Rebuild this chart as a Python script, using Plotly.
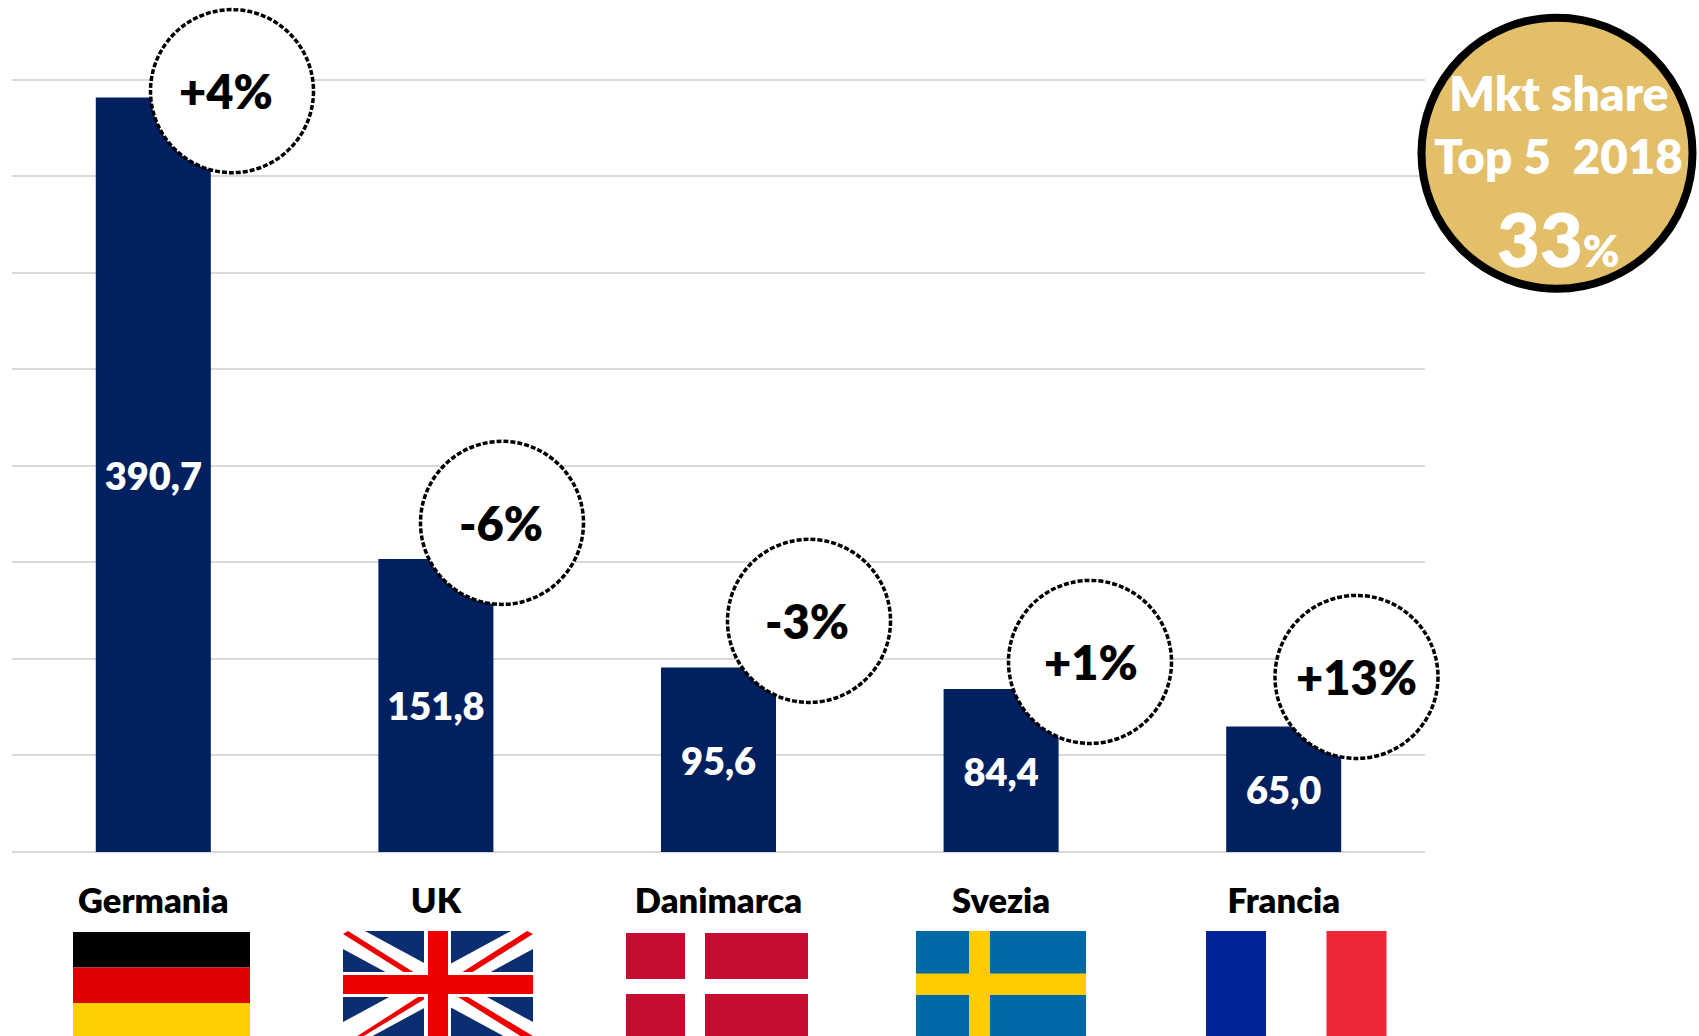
import plotly.graph_objects as go

countries = ["Germania", "UK", "Danimarca", "Svezia", "Francia"]
values = [390.7, 151.8, 95.6, 84.4, 65.0]
changes = ["+4%", "-6%", "-3%", "+1%", "+13%"]
share_line_1 = "Mkt share"
share_line_2 = "Top 5  2018"
share_value = "33"
share_unit = "%"
y_ticks = [0, 50, 100, 150, 200, 250, 300, 350, 400]

W, H = 1699, 1036
L, R, T, B = 12, 1425, 70.35, 852
Y_MAX = 405
FONT = "Lato"
HEAVY = 800


def fx(p):
    return (p - L) / (R - L)


def fy(p):
    return (B - p) / (B - T)


def rect(x0, y0, x1, y1, color):
    return dict(type="rect", xref="paper", yref="paper", layer="above",
                x0=fx(x0), x1=fx(x1), y0=fy(y0), y1=fy(y1),
                fillcolor=color, line=dict(width=0))


def poly(points, color):
    path = "M " + " L ".join(f"{fx(a):.5f},{fy(b):.5f}" for a, b in points) + " Z"
    return dict(type="path", xref="paper", yref="paper", layer="above", path=path,
                fillcolor=color, line=dict(width=0))


def circle(cx, cy, r, fill, line):
    return dict(type="circle", xref="paper", yref="paper", layer="above",
                x0=fx(cx - r), x1=fx(cx + r), y0=fy(cy - r), y1=fy(cy + r),
                fillcolor=fill, line=line)


def label(cx, cy, text, size, color):
    return dict(xref="paper", yref="paper", x=fx(cx), y=fy(cy), text=text, showarrow=False,
                xanchor="center", yanchor="middle",
                font=dict(family=FONT, size=size, color=color, weight=HEAVY))


fig = go.Figure(go.Bar(
    x=countries, y=values, marker=dict(color="#002060", line=dict(width=0)),
    texttemplate="%{y:.1f}", textposition="inside", insidetextanchor="middle",
    textangle=0, insidetextfont=dict(family=FONT, size=38, color="white", weight=HEAVY),
    hoverinfo="x+y", cliponaxis=False,
))

shapes = []

# Flags
shapes += [rect(73, 932, 250, 967.5, "#000000"),
           rect(73, 967.5, 250, 1003, "#DD0000"),
           rect(73, 1003, 250, 1040, "#FFCE00")]

ux0, ux1, uy0, uy1 = 343, 533, 931, 1040
shapes.append(rect(ux0, uy0, ux1, uy1, "#0B2D72"))
shapes.append(poly([(ux0, uy0), (ux0 + 22, uy0), (ux1, uy1 - 18), (ux1, uy1), (ux1 - 22, uy1), (ux0, uy0 + 18)], "#FFFFFF"))
shapes.append(poly([(ux1, uy0), (ux1 - 22, uy0), (ux0, uy1 - 18), (ux0, uy1), (ux0 + 22, uy1), (ux1, uy0 + 18)], "#FFFFFF"))
shapes.append(poly([(ux0, uy0 + 3), (ux0 + 5, uy0), (ux0 + 72, 973), (ux0 + 62, 973)], "#EE0000"))
shapes.append(poly([(ux1, uy0 + 3), (ux1 - 6, uy0), (ux1 - 72, 973), (ux1 - 62, 973)], "#EE0000"))
shapes.append(poly([(ux0 + 14, uy1), (ux0 + 8, uy1), (ux0 + 75, 997), (ux0 + 85, 997)], "#EE0000"))
shapes.append(poly([(ux1, uy1 - 4), (ux1 - 6, uy1), (ux1 - 75, 997), (ux1 - 65, 997)], "#EE0000"))
shapes.append(rect(424, uy0, 451, uy1, "#FFFFFF"))
shapes.append(rect(ux0, 972, ux1, 997, "#FFFFFF"))
shapes.append(rect(428, uy0, 448, uy1, "#EE0000"))
shapes.append(rect(ux0, 975, ux1, 994, "#EE0000"))

shapes += [rect(626, 933, 808, 1040, "#C60C30"),
           rect(685, 933, 705, 1040, "#FFFFFF"),
           rect(626, 979, 808, 994, "#FFFFFF")]

shapes += [rect(916, 931, 1086, 1040, "#006AA7"),
           rect(969, 931, 990, 1040, "#FECC00"),
           rect(916, 973.5, 1086, 995, "#FECC00")]

shapes += [rect(1206, 931, 1266, 1040, "#002395"),
           rect(1326.5, 931, 1386.5, 1040, "#ED2939")]

# Year-on-year badges
badge_line = dict(color="#000000", width=3.5, dash="5px,2px")
badge_centers = [(232, 91.5), (502, 523), (809, 621), (1090, 662), (1356.5, 677)]
badge_text_shift = [-6, -1, -2, 1, 0]
shapes += [circle(cx, cy, 81.5, "#FFFFFF", badge_line) for cx, cy in badge_centers]
annotations = [label(cx + dx, cy, c, 47, "#000000")
               for (cx, cy), c, dx in zip(badge_centers, changes, badge_text_shift)]

# Market-share disc
shapes.append(circle(1557, 153.5, 135.5, "#E3BF6A", dict(color="#000000", width=8)))
annotations += [
    label(1559, 93, share_line_1, 48, "#FFFFFF"),
    label(1559, 156, share_line_2, 47.5, "#FFFFFF"),
    label(1559, 239, f'{share_value}<span style="font-size:44px">{share_unit}</span>', 74, "#FFFFFF"),
]

fig.update_layout(
    width=W, height=H, autosize=False,
    margin=dict(l=L, r=W - R, t=T, b=H - B, pad=0),
    paper_bgcolor="white", plot_bgcolor="white",
    showlegend=False, bargap=0.593, separators=",.",
    shapes=shapes, annotations=annotations,
    font=dict(family=FONT),
    xaxis=dict(type="category", showgrid=False, zeroline=False, showline=False, ticks="",
               tickfont=dict(family=FONT, size=34.5, color="#000000", weight=HEAVY),
               ticklabelstandoff=25),
    yaxis=dict(range=[0, Y_MAX], tickvals=y_ticks, showticklabels=False, ticks="",
               showgrid=True, gridcolor="#D9D9D9", gridwidth=2,
               zeroline=True, zerolinecolor="#D9D9D9", zerolinewidth=2, showline=False),
)

fig.write_html("out.html", config=dict(displayModeBar=False),
               post_script="document.body.style.margin='0';document.documentElement.style.overflow='hidden';")
